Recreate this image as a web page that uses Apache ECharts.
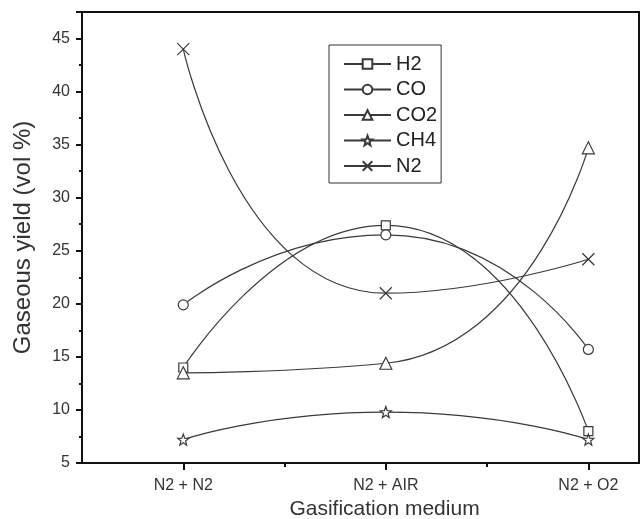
<!DOCTYPE html>
<html>
<head>
<meta charset="utf-8">
<title>Gaseous yield</title>
<script src="https://cdn.jsdelivr.net/npm/echarts@6/dist/echarts.min.js"></script>
<style>
  html, body { margin: 0; padding: 0; background: #fff; }
  #chart { width: 644px; height: 519px; }
</style>
</head>
<body>
<div id="chart"></div>
<script>
// gasification media (x positions 1, 2, 3)
var media = ['N2 + N2', 'N2 + AIR', 'N2 + O2'];
var mediaPos = [1, 2, 3];

// gas composition, vol %
var h2  = [14.0, 27.4, 8.0];
var co  = [19.9, 26.5, 15.7];
var co2 = [13.5, 14.4, 34.7];
var ch4 = [7.2, 9.8, 7.2];
var n2  = [44.0, 21.0, 24.2];

var yMajor = [5, 10, 15, 20, 25, 30, 35, 40, 45, 47.5];
var yMinor = [7.5, 12.5, 17.5, 22.5, 27.5, 32.5, 37.5, 42.5];
var xMinor = [1.5, 2.5];

var starPath = 'path://M5,0 L6.23,3.3 L9.76,3.45 L7,5.65 L7.94,9.05 L5,7.1 L2.06,9.05 L3,5.65 L0.24,3.45 L3.77,3.3 Z';
var crossPath = 'path://M0,0 L10,10 M10,0 L0,10';

function pairs(vals) {
    var out = [];
    for (var i = 0; i < vals.length; i++) {
        out.push([mediaPos[i], vals[i]]);
    }
    return out;
}

var lineColor = '#3a3a3a';
var font = 'Liberation Sans, Arial, sans-serif';

function makeSeries(name, vals, symbol, size) {
    return {
        name: name,
        type: 'line',
        data: pairs(vals),
        smooth: 0.6,
        symbol: symbol,
        symbolSize: size,
        showAllSymbol: true,
        lineStyle: { color: lineColor, width: 1.2 },
        itemStyle: { color: '#fff', borderColor: lineColor, borderWidth: 1.2 },
        emphasis: { disabled: true },
        z: 3
    };
}

var chart = echarts.init(document.getElementById('chart'));
chart.setOption({
    animation: false,
    textStyle: { fontFamily: font },
    grid: {
        left: 82, right: 5, top: 12, bottom: 56,
        outerBoundsMode: 'none',
        containLabel: false,
        show: true, borderColor: '#111', borderWidth: 2
    },
    legend: {
        orient: 'vertical',
        left: 329, top: 45,
        padding: [9, 4, 7, 14],
        itemWidth: 47, itemHeight: 12, itemGap: 5.5,
        borderColor: '#333', borderWidth: 1,
        textStyle: { fontSize: 20, lineHeight: 20, color: '#222', fontFamily: font },
        data: ['H2', 'CO', 'CO2', 'CH4', 'N2']
    },
    xAxis: [{
        type: 'value',
        min: 0.5, max: 3.25,
        position: 'bottom',
        name: 'Gasification medium',
        nameLocation: 'middle',
        nameGap: 32,
        nameTextStyle: { fontSize: 21, color: '#333', padding: [0, 0, 0, 48] },
        axisLine: { onZero: false, lineStyle: { color: '#111', width: 2 } },
        axisTick: { customValues: mediaPos, length: 7, lineStyle: { color: '#111', width: 2 } },
        axisLabel: {
            customValues: mediaPos,
            margin: 15,
            fontSize: 16, color: '#333',
            formatter: function (v) { return media[Math.round(v) - 1]; }
        },
        splitLine: { show: false }
    }, {
        type: 'value',
        min: 0.5, max: 3.25,
        position: 'bottom',
        axisLine: { show: false, onZero: false },
        axisTick: { customValues: xMinor, length: 4, lineStyle: { color: '#111', width: 2 } },
        axisLabel: { show: false },
        splitLine: { show: false }
    }],
    yAxis: [{
        type: 'value',
        min: 5, max: 47.5,
        position: 'left',
        name: 'Gaseous yield (vol %)',
        nameLocation: 'middle',
        nameGap: 47,
        nameTextStyle: { fontSize: 24, color: '#333' },
        axisLine: { onZero: false, lineStyle: { color: '#111', width: 2 } },
        axisTick: { customValues: yMajor, length: 6, lineStyle: { color: '#111', width: 2 } },
        axisLabel: {
            customValues: yMajor.slice(0, 9),
            margin: 12,
            fontSize: 16, color: '#333'
        },
        splitLine: { show: false }
    }, {
        type: 'value',
        min: 5, max: 47.5,
        position: 'left',
        axisLine: { show: false, onZero: false },
        axisTick: { customValues: yMinor, length: 3, lineStyle: { color: '#111', width: 2 } },
        axisLabel: { show: false },
        splitLine: { show: false }
    }],
    series: [
        makeSeries('H2', h2, 'rect', 9),
        makeSeries('CO', co, 'circle', 10),
        makeSeries('CO2', co2, 'triangle', 12),
        makeSeries('CH4', ch4, starPath, 11),
        makeSeries('N2', n2, crossPath, 12)
    ]
});
</script>
</body>
</html>
